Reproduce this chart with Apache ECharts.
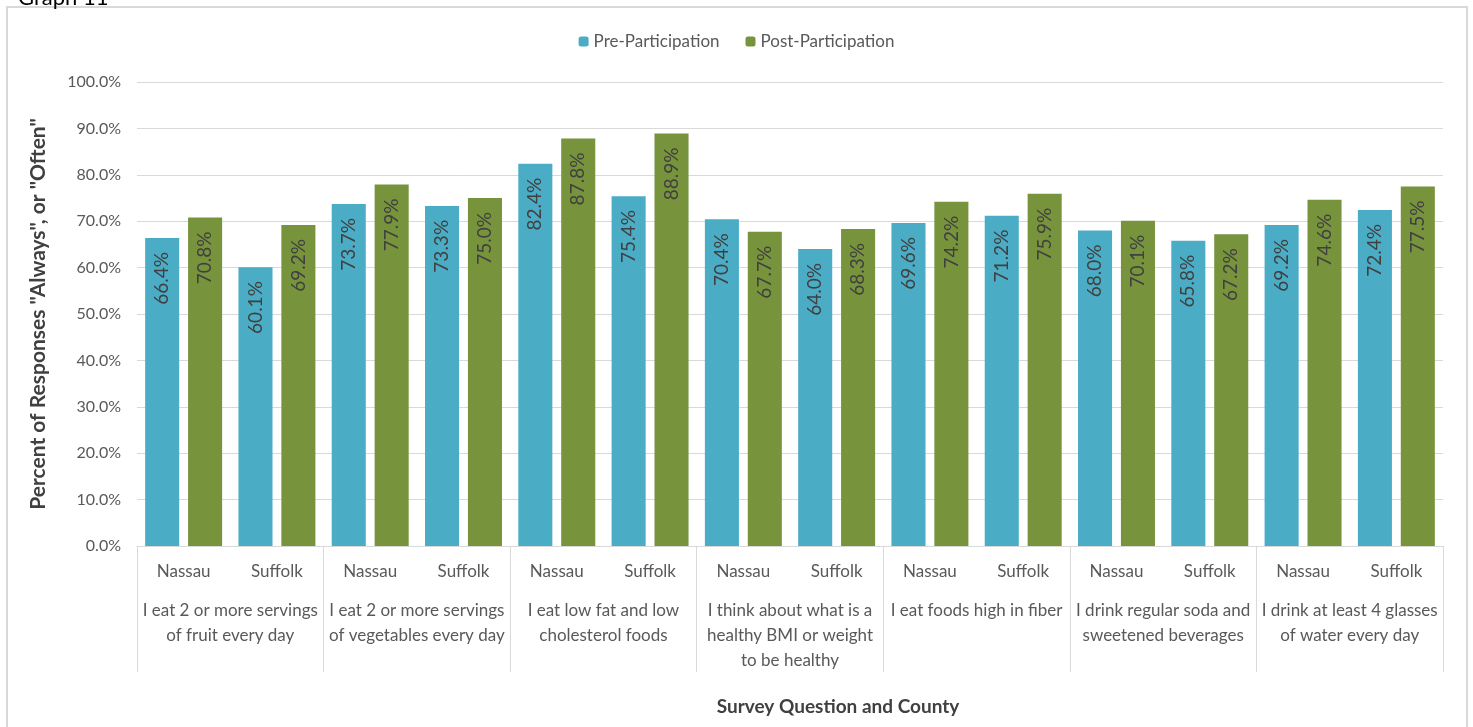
<!DOCTYPE html>
<html>
<head>
  <meta charset="utf-8">
  <title>Graph 11</title>
  <script src="https://cdn.jsdelivr.net/npm/echarts/dist/echarts.min.js"></script>
  <style>
    html, body { margin: 0; padding: 0; background: #fff; }
    #main { width: 1473px; height: 727px; }
  </style>
</head>
<body>
<div id="main"></div>
<script>
  const counties = ['Nassau', 'Suffolk', 'Nassau', 'Suffolk', 'Nassau', 'Suffolk', 'Nassau',
    'Suffolk', 'Nassau', 'Suffolk', 'Nassau', 'Suffolk', 'Nassau', 'Suffolk'];

  const questions = [
    'I eat 2 or more servings\nof fruit every day',
    'I eat 2 or more servings\nof vegetables every day',
    'I eat low fat and low\ncholesterol foods',
    'I think about what is a\nhealthy BMI or weight\nto be healthy',
    'I eat foods high in fiber',
    'I drink regular soda and\nsweetened beverages',
    'I drink at least 4 glasses\nof water every day'
  ];

  const prePart = [66.4, 60.1, 73.7, 73.3, 82.4, 75.4, 70.4, 64.0, 69.6, 71.2, 68.0, 65.8, 69.2, 72.4];
  const postPart = [70.8, 69.2, 77.9, 75.0, 87.8, 88.9, 67.7, 68.3, 74.2, 75.9, 70.1, 67.2, 74.6, 77.5];

  const FONT = 'Lato, "Open Sans", sans-serif';
  const GREY = '#d9d9d9';

  const myChart = echarts.init(document.getElementById('main'));

  const barLabel = {
    show: true,
    position: 'insideTop',
    rotate: 90,
    align: 'right',
    verticalAlign: 'middle',
    distance: 14,
    color: '#404040',
    fontFamily: FONT,
    fontSize: 19,
    formatter: function (p) { return p.value.toFixed(1) + '%'; }
  };

  const option = {
    animation: false,
    graphic: [
      {
        type: 'rect',
        shape: { x: 7, y: 7, width: 1460, height: 740 },
        style: { fill: 'none', stroke: GREY, lineWidth: 2 },
        z: -1
      },
      {
        type: 'text',
        left: 18,
        top: -13,
        style: { text: 'Graph 11', fontFamily: FONT, fontSize: 22, fill: '#000' }
      }
    ],
    legend: {
      top: 28,
      left: 'center',
      itemWidth: 10,
      itemHeight: 10,
      itemGap: 26,
      textStyle: { fontFamily: FONT, fontSize: 17, color: '#595959' },
      data: ['Pre-Participation', 'Post-Participation']
    },
    grid: { left: 137, right: 30, top: 82, bottom: 181 },
    xAxis: [
      {
        type: 'category',
        data: counties,
        axisLine: { lineStyle: { color: GREY, width: 1 } },
        axisTick: { show: false },
        axisLabel: { margin: 17, fontFamily: FONT, fontSize: 17, color: '#595959', interval: 0 },
        name: 'Survey Question and County',
        nameLocation: 'middle',
        nameGap: 151,
        nameTextStyle: {
          fontFamily: FONT, fontSize: 19, fontWeight: 'bold', color: '#404040',
          padding: [0, 0, 0, 96]
        }
      },
      {
        type: 'category',
        data: questions,
        position: 'bottom',
        axisLine: { show: false },
        axisTick: { show: true, length: 126, interval: 0, lineStyle: { color: GREY } },
        axisLabel: {
          margin: 52, interval: 0, fontFamily: FONT, fontSize: 17, color: '#595959',
          lineHeight: 25, align: 'center', verticalAlign: 'top'
        }
      }
    ],
    yAxis: {
      type: 'value',
      min: 0,
      max: 100,
      interval: 10,
      axisLine: { show: false },
      axisTick: { show: false },
      splitLine: { lineStyle: { color: GREY, width: 1 } },
      axisLabel: {
        margin: 16, fontFamily: FONT, fontSize: 16, color: '#595959',
        formatter: function (v) { return v.toFixed(1) + '%'; }
      },
      name: 'Percent of Responses "Always", or "Often"',
      nameLocation: 'middle',
      nameGap: 88,
      nameTextStyle: { fontFamily: FONT, fontSize: 21, fontWeight: 'bold', color: '#404040' }
    },
    series: [
      {
        name: 'Pre-Participation',
        type: 'bar',
        data: prePart,
        barWidth: '36.5%',
        barGap: '26%',
        itemStyle: { color: '#4BACC6' },
        label: barLabel
      },
      {
        name: 'Post-Participation',
        type: 'bar',
        data: postPart,
        barWidth: '36.5%',
        barGap: '26%',
        itemStyle: { color: '#77933C' },
        label: barLabel
      }
    ]
  };

  myChart.setOption(option);
</script>
</body>
</html>
